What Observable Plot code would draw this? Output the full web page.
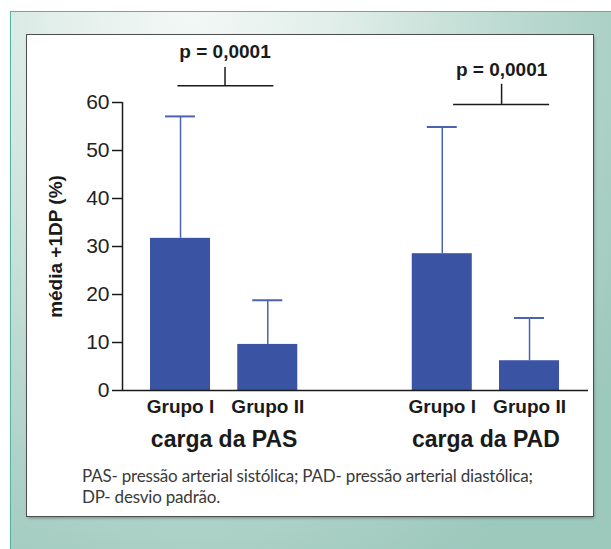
<!DOCTYPE html>
<html><head><meta charset="utf-8">
<script src="https://cdn.jsdelivr.net/npm/d3@7"></script>
<script src="https://cdn.jsdelivr.net/npm/@observablehq/plot@0.6"></script>
<style>
html,body{margin:0;padding:0;background:#fff;width:611px;height:549px;overflow:hidden;}
#outer{position:absolute;left:10px;top:11px;width:640px;height:580px;border-left:1.5px solid #52b3a0;border-top:1.5px solid #52b3a0;
  background:radial-gradient(ellipse 80% 110% at 28% 0%, #f3f8f6 0%, #e1eee9 28%, #bcdad1 62%, #9dc8bc 100%);}
#panel{position:absolute;left:27px;top:35px;width:566px;height:481px;background:#fff;box-shadow:0 0 0 1px #4e4e4e, 1px 2px 3px rgba(0,0,0,.35);}
#chart{position:absolute;left:0;top:0;}
#caption{position:absolute;left:55px;top:431px;font-family:Lato,"Open Sans",sans-serif;font-size:17px;letter-spacing:-0.2px;line-height:20.5px;color:#3a3a3a;white-space:nowrap;}
</style></head>
<body>
<div id="outer"></div>
<div id="panel"><div id="chart"></div><div id="caption">PAS- pressão arterial sistólica; PAD- pressão arterial diastólica;<br>DP- desvio padrão.</div></div>
<script>
// ---- data ----
const groupNames = ["carga da PAS", "carga da PAD"];
const barGroup = ["carga da PAS", "carga da PAS", "carga da PAD", "carga da PAD"];
const barLabels = ["Grupo I", "Grupo II", "Grupo I", "Grupo II"];
const barSlot = [1, 2, 4, 5];
const meanValues = [31.7, 9.6, 28.5, 6.2];
const meanPlusSD = [57.1, 18.8, 54.9, 15.1];
const yTicks = [0, 10, 20, 30, 40, 50, 60];
const yTitle = "média +1DP (%)";
const pValueText = ["p = 0,0001", "p = 0,0001"];
const bracketLeft = [0.97, 4.13];
const bracketRight = [2.07, 5.23];
const bracketMid = [1.51, 4.68];
const bracketY = [63.5, 59.6];
const bracketTickTop = [67.3, 63.8];
const pTextY = [70.6, 66.7];

// ---- build ----
const bars = barSlot.map((s, i) => ({slot: s, label: barLabels[i], group: barGroup[i], mean: meanValues[i], upper: meanPlusSD[i]}));
const groups = groupNames.map(g => ({group: g, slot: d3.mean(bars.filter(b => b.group === g), b => b.slot)}));
const brackets = pValueText.map((t, i) => ({text: t, left: bracketLeft[i], right: bracketRight[i], mid: bracketMid[i], y: bracketY[i], top: bracketTickTop[i], ty: pTextY[i]}));

const xDomain = [0.335, 5.676];
const halfBar = 0.344, halfCap = 0.172;
const barColor = "#3b53a3", errColor = "#4a62b2", ink = "#1a1a1a";

const chart = Plot.plot({
  width: 566, height: 425,
  marginLeft: 95, marginRight: 5, marginTop: 67, marginBottom: 70,
  style: {fontFamily: "'Liberation Sans', Arial, sans-serif", fontSize: "21px", color: ink, background: "transparent", overflow: "visible"},
  x: {type: "linear", domain: xDomain, axis: null},
  y: {domain: [0, 60], axis: null},
  marks: [
    Plot.rectY(bars, {x1: d => d.slot - halfBar, x2: d => d.slot + halfBar, y1: 0, y2: "mean", fill: barColor}),
    Plot.ruleX(bars, {x: "slot", y1: "mean", y2: "upper", stroke: errColor, strokeWidth: 1.5}),
    Plot.ruleY(bars, {x1: d => d.slot - halfCap, x2: d => d.slot + halfCap, y: "upper", stroke: errColor, strokeWidth: 2}),
    Plot.axisY({ticks: yTicks, tickSize: 10, tickPadding: 3, label: null, stroke: ink, strokeWidth: 1.5, fill: "#222"}),
    Plot.ruleX([xDomain[0]], {y1: 0, y2: 60, stroke: ink, strokeWidth: 1.5}),
    Plot.ruleY([0], {stroke: ink, strokeWidth: 1.5}),
    Plot.text(bars, {x: "slot", y: 0, text: "label", dy: 16, lineAnchor: "middle", fontSize: 19, fontWeight: "bold", fill: ink}),
    Plot.text(groups, {x: "slot", y: 0, text: "group", dy: 49, lineAnchor: "middle", fontSize: 23, fontWeight: "bold", fill: ink}),
    Plot.ruleY(brackets, {x1: "left", x2: "right", y: "y", stroke: ink, strokeWidth: 1.5}),
    Plot.ruleX(brackets, {x: "mid", y1: "y", y2: "top", stroke: ink, strokeWidth: 1.5}),
    Plot.text(brackets, {x: "mid", y: "ty", text: "text", lineAnchor: "middle", fontSize: 19, fontWeight: "bold", fill: ink}),
    Plot.text([yTitle], {frameAnchor: "left", dx: -67, rotate: -90, textAnchor: "middle", lineAnchor: "middle", fontSize: 19, fontWeight: "bold", fill: ink})
  ]
});
document.getElementById("chart").appendChild(chart);
</script>
</body></html>
